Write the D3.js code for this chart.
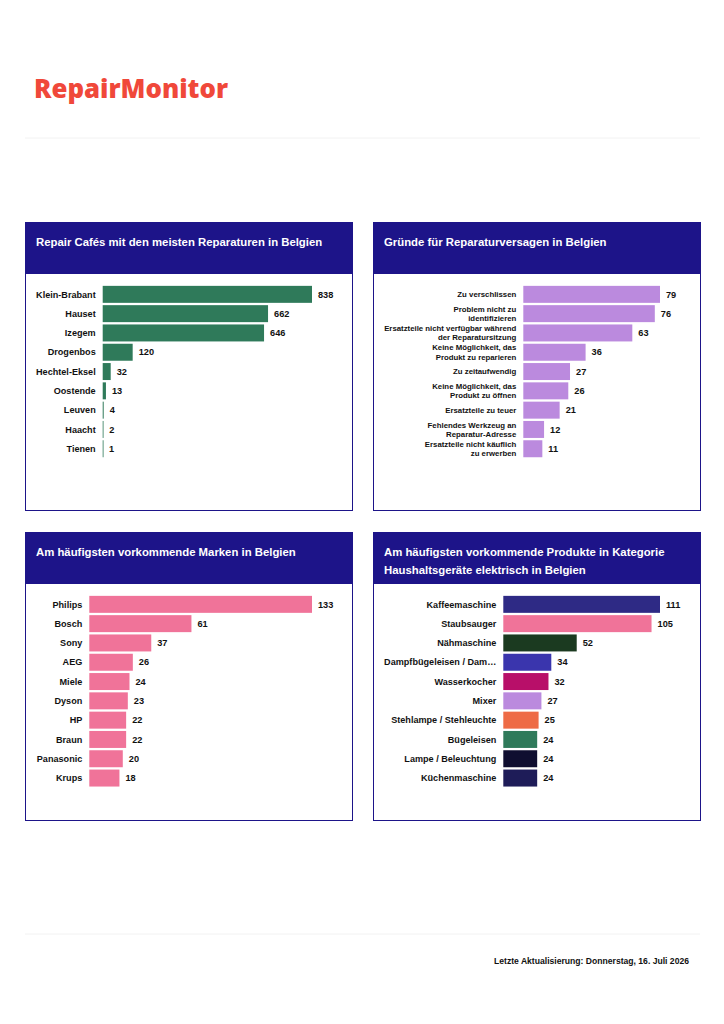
<!DOCTYPE html>
<html>
<head>
<meta charset="utf-8">
<script src="https://cdn.jsdelivr.net/npm/d3@7"></script>
<style>
  body { margin: 0; background: #fff; }
  text { font-family: 'Liberation Sans', Arial, sans-serif; }
</style>
</head>
<body>
<div id="page"></div>
<script>
// Repair Cafés
const cafeNames = ['Klein-Brabant', 'Hauset', 'Izegem', 'Drogenbos', 'Hechtel-Eksel', 'Oostende', 'Leuven', 'Haacht', 'Tienen']
const cafeValues = [838, 662, 646, 120, 32, 13, 4, 2, 1]

// Gründe
const reasonNames = [
  'Zu verschlissen',
  'Problem nicht zu|identifizieren',
  'Ersatzteile nicht verfügbar während|der Reparatursitzung',
  'Keine Möglichkeit, das|Produkt zu reparieren',
  'Zu zeitaufwendig',
  'Keine Möglichkeit, das|Produkt zu öffnen',
  'Ersatzteile zu teuer',
  'Fehlendes Werkzeug an|Reparatur-Adresse',
  'Ersatzteile nicht käuflich|zu erwerben'
]
const reasonValues = [79, 76, 63, 36, 27, 26, 21, 12, 11]

// Marken
const brandNames = ['Philips', 'Bosch', 'Sony', 'AEG', 'Miele', 'Dyson', 'HP', 'Braun', 'Panasonic', 'Krups']
const brandValues = [133, 61, 37, 26, 24, 23, 22, 22, 20, 18]

// Produkte
const productNames = ['Kaffeemaschine', 'Staubsauger', 'Nähmaschine', 'Dampfbügeleisen / Dam…', 'Wasserkocher', 'Mixer', 'Stehlampe / Stehleuchte', 'Bügeleisen', 'Lampe / Beleuchtung', 'Küchenmaschine']
const productValues = [111, 105, 52, 34, 32, 27, 25, 24, 24, 24]
const productColors = ['#2e2a85', '#f07399', '#1b3a20', '#3a35ad', '#b80f69', '#bb8ade', '#ee6b45', '#2f7a5a', '#0f0e30', '#1e1c58']

const headerColor = '#1d1489'

const svg = d3
  .select('#page')
  .append('svg')
  .attr('width', 724)
  .attr('height', 1024)

// logo
svg
  .append('text')
  .text('RepairMonitor')
  .attr('x', 34)
  .attr('y', 98)
  .attr('font-size', 27)
  .attr('font-weight', 800)
  .attr('fill', '#f0483a')
  .style('font-family', "'Open Sans', 'Liberation Sans', sans-serif")
  .attr('textLength', 194)
  .attr('lengthAdjust', 'spacingAndGlyphs')

// separators
svg.append('line').attr('x1', 25).attr('x2', 700).attr('y1', 138).attr('y2', 138).attr('stroke', '#f2f2f2')
svg.append('line').attr('x1', 25).attr('x2', 700).attr('y1', 934).attr('y2', 934).attr('stroke', '#f2f2f2')

svg
  .append('text')
  .text('Letzte Aktualisierung: Donnerstag, 16. Juli 2026')
  .attr('x', 689)
  .attr('y', 964)
  .attr('text-anchor', 'end')
  .attr('font-size', 8.6)
  .attr('font-weight', 'bold')
  .attr('fill', '#111')

function panel(opts) {
  const w = 327
  const h = 288
  const g = svg.append('g').attr('transform', 'translate(' + opts.x + ',' + opts.y + ')')

  g.append('rect')
    .attr('x', 0.5)
    .attr('y', 0.5)
    .attr('width', w)
    .attr('height', h)
    .attr('fill', '#fff')
    .attr('stroke', headerColor)
    .attr('stroke-width', 1)

  g.append('rect')
    .attr('x', 0)
    .attr('y', 0)
    .attr('width', w + 1)
    .attr('height', 52)
    .attr('fill', headerColor)

  opts.title.forEach((t, i) => {
    g.append('text')
      .text(t)
      .attr('x', 11)
      .attr('y', 24 + i * 17.5)
      .attr('fill', '#fff')
      .attr('font-size', 11.35)
      .attr('font-weight', 'bold')
  })

  const yScale = d3
    .scaleBand()
    .domain(opts.names)
    .range([62.7, 62.7 + opts.names.length * 19.3])
    .paddingInner(0.12)
    .paddingOuter(0.06)

  const xScale = d3
    .scaleLinear()
    .domain([0, d3.max(opts.values)])
    .range([opts.left, 287])

  const rows = opts.names.map((n, i) => ({ name: n, value: opts.values[i], i: i }))

  g.selectAll('.bar')
    .data(rows)
    .enter()
    .append('rect')
    .attr('class', 'bar')
    .attr('x', xScale(0))
    .attr('y', d => yScale(d.name))
    .attr('width', d => Math.max(0.8, xScale(d.value) - xScale(0)))
    .attr('height', yScale.bandwidth())
    .attr('fill', d => (opts.colors ? opts.colors[d.i] : opts.color))

  g.selectAll('.value')
    .data(rows)
    .enter()
    .append('text')
    .attr('class', 'value')
    .text(d => d.value)
    .attr('x', d => xScale(d.value) + 6)
    .attr('y', d => yScale(d.name) + yScale.bandwidth() / 2)
    .attr('dy', '0.35em')
    .attr('font-size', 9.2)
    .attr('font-weight', 'bold')
    .attr('fill', '#111')

  const labels = g
    .selectAll('.label')
    .data(rows)
    .enter()
    .append('text')
    .attr('class', 'label')
    .attr('text-anchor', 'end')
    .attr('font-size', opts.labelSize)
    .attr('font-weight', 'bold')
    .attr('fill', '#111')

  labels.each(function(d) {
    const lines = d.name.split('|')
    const lh = opts.labelSize * 1.18
    const cy = yScale(d.name) + yScale.bandwidth() / 2
    lines.forEach((line, k) => {
      d3.select(this)
        .append('tspan')
        .text(line)
        .attr('x', opts.left - 7)
        .attr('y', cy + (k - (lines.length - 1) / 2) * lh)
        .attr('dy', '0.35em')
    })
  })
}

panel({
  x: 25,
  y: 222,
  title: ['Repair Cafés mit den meisten Reparaturen in Belgien'],
  names: cafeNames,
  values: cafeValues,
  color: '#2f7a5a',
  left: 77.7,
  labelSize: 9.1
})

panel({
  x: 373,
  y: 222,
  title: ['Gründe für Reparaturversagen in Belgien'],
  names: reasonNames,
  values: reasonValues,
  color: '#bb8ade',
  left: 150.3,
  labelSize: 7.8
})

panel({
  x: 25,
  y: 532,
  title: ['Am häufigsten vorkommende Marken in Belgien'],
  names: brandNames,
  values: brandValues,
  color: '#f07399',
  left: 64.3,
  labelSize: 9.1
})

panel({
  x: 373,
  y: 532,
  title: ['Am häufigsten vorkommende Produkte in Kategorie', 'Haushaltsgeräte elektrisch in Belgien'],
  names: productNames,
  values: productValues,
  colors: productColors,
  left: 130.3,
  labelSize: 9.1
})
</script>
</body>
</html>
